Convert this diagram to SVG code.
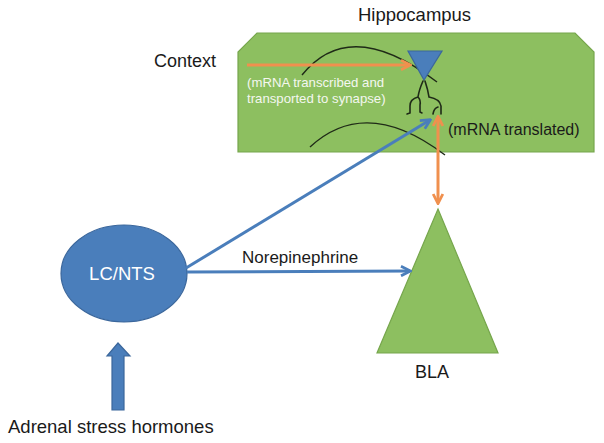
<svg xmlns="http://www.w3.org/2000/svg" width="604" height="443" viewBox="0 0 604 443">
<style>
.lbl{font-family:"Liberation Sans",Arial,sans-serif;fill:#1a1a1a}
.green{fill:#8dbf60;stroke:#76a64c;stroke-width:1.2}
.blue{fill:#4a7ebb;stroke:#3b679c;stroke-width:1.2}
.barr{stroke:#4a7ebb;stroke-width:3;fill:none}
.oarr{stroke:#f0904e;stroke-width:3;fill:none}
.arc{stroke:#1f2a17;stroke-width:1.4;fill:none}
.den{stroke:#1f2a17;stroke-width:1.6;fill:none;stroke-linecap:round}
</style>
<defs>
<marker id="mb" viewBox="0 0 10 10" refX="8.5" refY="5" markerWidth="12" markerHeight="12" markerUnits="userSpaceOnUse" orient="auto">
<path d="M1,1 L9,5 L1,9" fill="none" stroke="#4a7ebb" stroke-width="2.3"/>
</marker>
<marker id="mo" viewBox="0 0 10 10" refX="8.5" refY="5" markerWidth="12" markerHeight="12" markerUnits="userSpaceOnUse" orient="auto-start-reverse">
<path d="M1,1 L9,5 L1,9" fill="none" stroke="#f0904e" stroke-width="2.3"/>
</marker>
</defs>
<text class="lbl" x="358" y="21" font-size="18.5">Hippocampus</text>
<text class="lbl" x="154" y="67" font-size="18">Context</text>
<g id="hippocampus">
<polygon class="green" points="257,33 575,33 594,52 594,152 238,152 238,52"/>
<path class="arc" d="M302 75 Q350 15 437 82"/>
<path class="arc" d="M310 147 Q366 95 445 155"/>
<text x="247" y="87" font-size="13.2" fill="#f4f7f0" font-family="Liberation Sans,Arial,sans-serif">(mRNA transcribed and</text>
<text x="247" y="103" font-size="13.2" fill="#f4f7f0" font-family="Liberation Sans,Arial,sans-serif">transported to synapse)</text>
<text class="lbl" x="448" y="135" font-size="16">(mRNA translated)</text>
</g>
<g id="neuron">
<polygon class="blue" points="408,51 442,51 424,80"/>
<path class="den" d="M423 81 Q419 90 418 97 Q410 99 410 106 L410 113 L407 114 M418 97 Q421 100 420 105 L420 112 L422 113 M425 81 Q428 90 429 97 Q440 99 441 106 L441 114 M433 114 Q434 108 438 107"/>
</g>
<g id="lcnts">
<ellipse class="blue" cx="124" cy="273.5" rx="63" ry="48.5"/>
<text x="122" y="280" font-size="18.5" fill="#ffffff" text-anchor="middle" font-family="Liberation Sans,Arial,sans-serif">LC/NTS</text>
</g>
<g id="bla">
<polygon class="green" points="438,209 498,353 377,353"/>
<text class="lbl" x="432" y="378" font-size="18" text-anchor="middle">BLA</text>
</g>
<g id="adrenal">
<polygon class="blue" points="118,343 107,356 112,356 112,410 124,410 124,356 130,356"/>
<text class="lbl" x="8" y="433" font-size="18.5">Adrenal stress hormones</text>
</g>
<g id="connectors">
<line class="oarr" x1="247" y1="65" x2="410" y2="65" marker-end="url(#mo)"/>
<line class="barr" x1="186" y1="268" x2="430" y2="120" marker-end="url(#mb)"/>
<line class="barr" x1="187" y1="272" x2="410" y2="271" marker-end="url(#mb)"/>
<line class="oarr" x1="438" y1="117" x2="438" y2="203" marker-start="url(#mo)" marker-end="url(#mo)"/>
<text class="lbl" x="242" y="263" font-size="17">Norepinephrine</text>
</g>
</svg>
